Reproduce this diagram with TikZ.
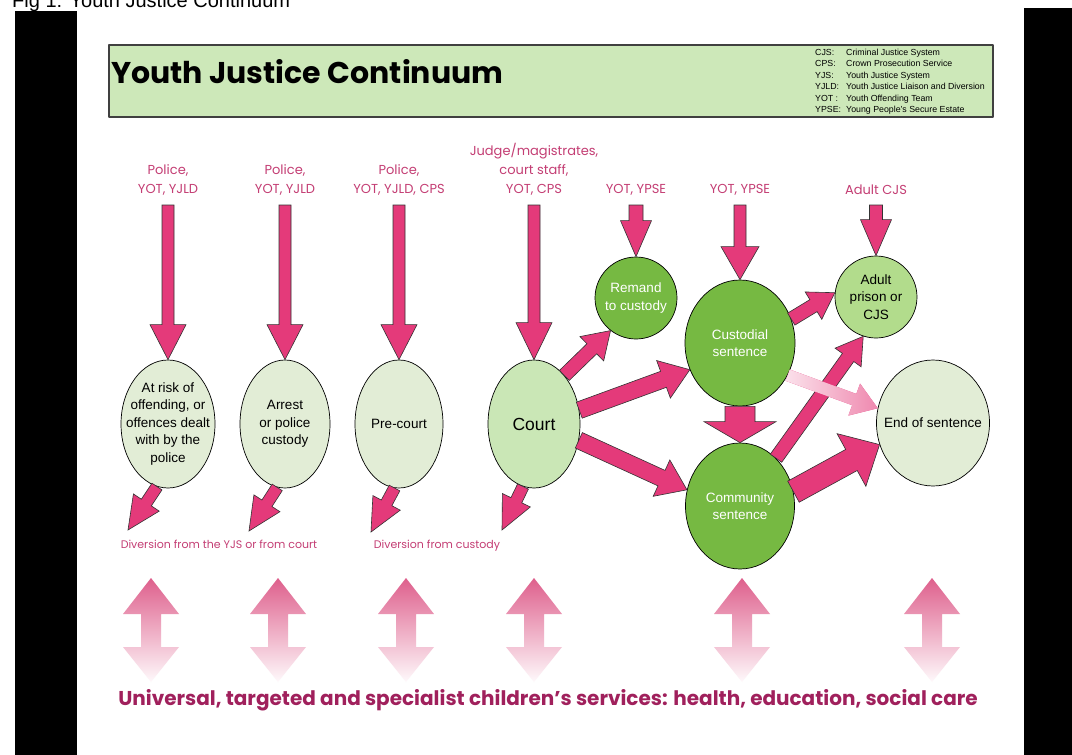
\documentclass[tikz,border=0pt]{standalone}
\usepackage{fontspec}
\setmainfont{Liberation Sans}
\newfontfamily\gothic{Poppins}
\usetikzlibrary{calc,backgrounds,shapes.geometric}

\definecolor{arrowpink}{RGB}{228,58,122}
\definecolor{lblpink}{RGB}{196,62,116}
\definecolor{darkmag}{RGB}{160,32,92}
\definecolor{palegreen}{RGB}{226,237,214}
\definecolor{courtgreen}{RGB}{202,231,182}
\definecolor{deepgreen}{RGB}{118,185,66}
\definecolor{adultgreen}{RGB}{178,220,140}
\definecolor{titlegreen}{RGB}{205,232,185}

% block arrow: [style] start, end, half shaft, half head, head length
\newcommand{\blockarrow}[6][]{%
  \path[fill=arrowpink, draw=black!80, line width=0.6pt, line join=miter, #1]
    let \p1=(#2), \p2=(#3),
        \n1={atan2(\y2-\y1,\x2-\x1)},
        \n2={veclen(\x2-\x1,\y2-\y1)-#6}
    in ($(\p1)+(\n1+90:#4pt)$)
    -- ($(\p1)+(\n1:\n2+0pt)+(\n1+90:#4pt)$)
    -- ($(\p1)+(\n1:\n2+0pt)+(\n1+90:#5pt)$)
    -- (\p2)
    -- ($(\p1)+(\n1:\n2+0pt)+(\n1-90:#5pt)$)
    -- ($(\p1)+(\n1:\n2+0pt)+(\n1-90:#4pt)$)
    -- ($(\p1)+(\n1-90:#4pt)$) -- cycle;}

\begin{document}
\begin{tikzpicture}[x=1pt, y=-1pt, line join=round,
    stage/.style={ellipse, draw=black, line width=0.7pt, inner sep=-16pt,
      align=center, font=\fontsize{13.5}{17.5}\selectfont},
    toplbl/.style={align=center, text=lblpink, anchor=south, inner sep=0pt,
      outer ysep=10pt, font=\gothic\fontsize{13}{19}\selectfont},
    divlbl/.style={text=lblpink, anchor=base, font=\gothic\fontsize{11}{14}\selectfont},
    fadepink/.style={left color=#1, right color=arrowpink!60, draw=none}]
  \useasboundingbox (0,0) rectangle (1072,755);
  \fill[white] (0,0) rectangle (1072,755);

  % page edges
  \node[anchor=base west, inner sep=0pt, font=\fontsize{20}{24}\selectfont] (caption) at (12,7) {Fig 1: Youth Justice Continuum};
  \fill[black] (15,11) rectangle (77,755);
  \fill[black] (1024,8) rectangle (1072,755);

  % title box
  \draw[fill=titlegreen, draw=black!75, line width=1.2pt] (109,45) rectangle (993,117);
  \node[anchor=west, inner sep=0pt, font=\gothic\bfseries\fontsize{30}{36}\selectfont] (title) at (111,72) {Youth Justice Continuum};
  \node[anchor=north west, inner sep=0pt, font=\fontsize{8.8}{11.5}\selectfont] (legend) at (815,47) {%
    \begin{tabular}{@{}p{31pt}@{}l@{}}
      CJS: & Criminal Justice System\\
      CPS: & Crown Prosecution Service\\
      YJS: & Youth Justice System\\
      YJLD: & Youth Justice Liaison and Diversion\\
      YOT : & Youth Offending Team\\
      YPSE: & Young People's Secure Estate
    \end{tabular}};

  % stages
  \node[stage, fill=palegreen, minimum width=94pt, minimum height=128pt] (risk) at (168,424) {At risk of\\offending, or\\offences dealt\\with by the\\police};
  \node[stage, fill=palegreen, minimum width=90pt, minimum height=128pt] (arrest) at (285,424) {Arrest\\or police\\custody};
  \node[stage, fill=palegreen, minimum width=88pt, minimum height=128pt] (precourt) at (399,424) {Pre-court};
  \node[stage, fill=courtgreen, minimum width=92pt, minimum height=128pt, font=\fontsize{17.5}{20}\selectfont] (court) at (534,424) {Court};
  \node[stage, fill=deepgreen, text=white, minimum size=82pt] (remand) at (636,298) {Remand\\to custody};
  \node[stage, fill=deepgreen, text=white, minimum width=110pt, minimum height=126pt] (custodial) at (740,343) {Custodial\\sentence};
  \node[stage, fill=deepgreen, text=white, minimum width=109pt, minimum height=126pt] (community) at (740,506) {Community\\sentence};
  \node[stage, fill=adultgreen, minimum size=82pt] (adult) at (876,297) {Adult\\prison or\\CJS};
  \node[stage, fill=palegreen, minimum width=113pt, minimum height=126pt] (endsent) at (933,423) {End of sentence};

  % agencies
  \node[toplbl] (lbl1) at (168,205) {Police,\\YOT, YJLD};
  \node[toplbl] (lbl2) at (285,205) {Police,\\YOT, YJLD};
  \node[toplbl] (lbl3) at (399,205) {Police,\\YOT, YJLD, CPS};
  \node[toplbl] (lbl4) at (534,205) {Judge/magistrates,\\court staff,\\YOT, CPS};
  \node[toplbl] (lbl5) at (636,205) {YOT, YPSE};
  \node[toplbl] (lbl6) at (740,205) {YOT, YPSE};
  \node[toplbl] (lbl7) at (876,205) {Adult CJS};

  \blockarrow{lbl1.south}{risk.north}{6}{18}{35}
  \blockarrow{lbl2.south}{arrest.north}{6}{18}{35}
  \blockarrow{lbl3.south}{precourt.north}{6}{18}{35}
  \blockarrow{lbl4.south}{court.north}{6}{18}{37}
  \blockarrow{lbl5.south}{remand.north}{7}{15.5}{36}
  \blockarrow{lbl6.south}{custodial.north}{6}{19}{33}
  \blockarrow{lbl7.south}{adult.north}{6.5}{15.5}{36}

  % links between early stages
  \begin{scope}[on background layer]
    \shade[left color=white, right color=arrowpink!25] ($(risk.east)+(-4,-19)$) rectangle ($(arrest.west)+(4,19)$);
    \draw[densely dotted, black!70] ($(risk.east)+(-4,-19)$) -- ($(arrest.west)+(4,-19)$);
    \draw[densely dotted, black!70] ($(risk.east)+(-4,19)$) -- ($(arrest.west)+(4,19)$);
    \shade[left color=arrowpink!30, right color=arrowpink!48] ($(arrest.east)+(-4,-19)$) rectangle ($(precourt.west)+(4,19)$);
    \blockarrow[left color={rgb,255:red,226;green,110;blue,168}, right color={rgb,255:red,210;green,30;blue,122}, draw=none]{[xshift=-4pt]precourt.east}{court.west}{19}{47.5}{30}
  \end{scope}

  % court and sentences
  \blockarrow{court.58}{remand.232}{7}{17}{26}
  \blockarrow{court.17}{custodial.208}{8.5}{20}{28}
  \blockarrow{court.-20}{community.163}{8.5}{20}{28}
  \blockarrow{custodial.-90}{community.90}{15}{36}{21}
  \blockarrow{custodial.25}{adult.174}{7}{16}{25}
  \blockarrow{community.53}{adult.252}{7}{16}{26}
  \blockarrow{community.15}{endsent.202}{12}{30}{32}
  \blockarrow[fadepink=arrowpink!15]{custodial.-34}{endsent.165}{6}{17}{25}

  % diversion
  \coordinate (div1) at (128,530);
  \coordinate (div2) at (249,531);
  \coordinate (div3) at (371,532);
  \coordinate (div4) at (502,530);
  \blockarrow{risk.260}{div1}{6}{15.5}{33}
  \blockarrow{arrest.263}{div2}{6}{15.5}{33}
  \blockarrow{precourt.266}{div3}{6}{15.5}{33}
  \blockarrow{court.260}{div4}{6}{15.5}{33}
  \node[divlbl] (divtxt1) at (219,548) {Diversion from the YJS or from court};
  \node[divlbl] (divtxt2) at (437,548) {Diversion from custody};

  % services
  \foreach \x in {151,278,406,534,742,932}
    \shade[top color={rgb,255:red,222;green,95;blue,140}, middle color=arrowpink!30, bottom color=arrowpink!3]
      (\x,578) -- (\x+28,614) -- (\x+10,614) -- (\x+10,647) -- (\x+28,647) -- (\x,682)
      -- (\x-28,647) -- (\x-10,647) -- (\x-10,614) -- (\x-28,614) -- cycle;
  \node[text=darkmag, font=\gothic\bfseries\fontsize{20}{24}\selectfont] (services) at (548,700) {Universal, targeted and specialist children’s services: health, education, social care};
\end{tikzpicture}
\end{document}
